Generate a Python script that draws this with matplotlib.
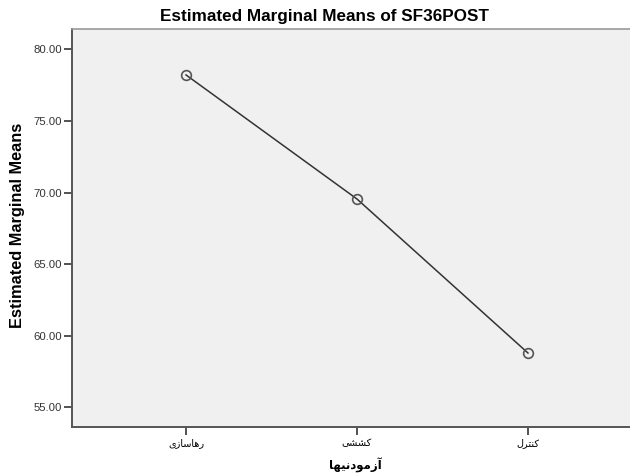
import matplotlib.pyplot as plt

plt.rcParams['font.family'] = ['Liberation Sans', 'DejaVu Sans']

# داده‌ها (حروف عربی به صورت شکل‌های نمایشی و ترتیب دیداری)
groups = ["\uFBFC\uFEAF\uFE8E\uFEB3\uFE8E\uFEEB\uFEAD",   # رهاسازی
          "\uFBFD\uFEB8\uFEB8\uFB90",                     # کششی
          "\uFEDD\uFEAE\uFE98\uFEE8\uFB90"]               # کنترل
means = [78.22, 69.55, 58.79]
y_ticks = [55, 60, 65, 70, 75, 80]
x_title = "\uFE8E\uFEEC\uFBFF\uFEE7\uFEA9\uFEEE\uFEE3\uFEAF\uFE81"  # آزمودنیها

W, H = 630, 474
fig = plt.figure(figsize=(W / 100, H / 100), dpi=100, facecolor="white")
ax = fig.add_axes([72 / W, (H - 427) / H, (642 - 72) / W, (427 - 29) / H])
ax.set_facecolor("#f0f0f0")

x = list(range(len(groups)))
ax.plot(x, means, color="#333333", lw=1.1, zorder=2)
ax.plot(x, means, ls="none", marker="o", ms=7, mfc="none", mec="#555555",
        mew=1.2, zorder=3)

ax.set_xlim(-0.667, 2.667)
ax.set_ylim(53.62, 81.43)
ax.set_xticks(x)
ax.set_xticklabels(groups, fontsize=7, family="DejaVu Sans")
ax.set_yticks(y_ticks)
ax.set_yticklabels([f"{v:.2f}" for v in y_ticks], fontsize=8.2, color="#333333")
ax.tick_params(axis="both", direction="out", length=6, width=1.3,
               color="#444444", pad=1)
ax.tick_params(axis="x", pad=2)

for side in ["left", "bottom"]:
    ax.spines[side].set_color("#555555")
    ax.spines[side].set_linewidth(1.4)
ax.spines["top"].set_color("#999999")
ax.spines["top"].set_linewidth(1.2)
ax.spines["right"].set_visible(False)

fig.text(324 / W, 1 - 16 / H, "Estimated Marginal Means of SF36POST",
         ha="center", va="center", fontsize=12.3, fontweight="bold")
fig.text(18 / W, 1 - 225 / H, "Estimated Marginal Means", rotation=90,
         ha="center", va="center", fontsize=11.8, fontweight="bold")
fig.text(355 / W, 1 - 465 / H, x_title, ha="center", va="center",
         fontsize=8.5, fontweight="bold", family="DejaVu Sans")

fig.savefig("out.png", dpi=100, facecolor="white")
